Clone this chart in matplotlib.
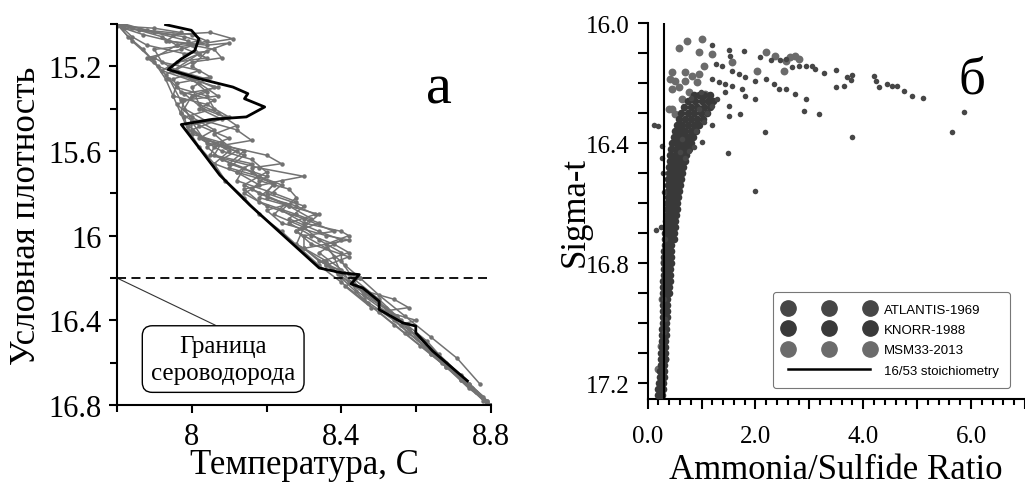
import matplotlib
matplotlib.use("Agg")
import matplotlib.pyplot as plt
from matplotlib.ticker import MultipleLocator, FuncFormatter
from matplotlib.lines import Line2D

SERIF = "Liberation Serif"
SANS = "Liberation Sans"

# ---------------- Panel a: T-S profiles ----------------
temp_label = "Температура, С"
dens_label = "Условная плотность"
boundary_sigma = 16.2
boundary_text = "Граница\nсероводорода"

# grey CTD casts: (temperature, sigma-t)
cast1_t = [7.80, 7.86, 7.95, 8.05, 8.11, 8.00, 7.90, 7.92, 8.02, 7.95, 7.97, 8.06, 8.02, 8.08, 7.99, 8.04,
           8.14, 8.10, 8.20, 8.16, 8.25, 8.22, 8.30, 8.28, 8.36, 8.40, 8.46, 8.54, 8.62, 8.70, 8.78]
cast1_s = [15.00, 15.03, 15.05, 15.04, 15.07, 15.10, 15.12, 15.18, 15.22, 15.26, 15.32, 15.36, 15.40, 15.45,
           15.48, 15.55, 15.60, 15.66, 15.72, 15.78, 15.85, 15.90, 15.96, 16.04, 16.12, 16.20, 16.30, 16.40,
           16.52, 16.64, 16.76]
cast2_t = [7.81, 7.84, 7.88, 7.98, 8.04, 8.00, 8.05, 7.96, 7.95, 8.04, 8.10, 8.00, 8.00, 8.08, 8.06, 8.16,
           8.12, 8.22, 8.20, 8.30, 8.26, 8.34, 8.40, 8.34, 8.40, 8.44, 8.52, 8.58, 8.66, 8.74, 8.80]
cast2_s = [15.01, 15.06, 15.10, 15.14, 15.13, 15.20, 15.25, 15.28, 15.34, 15.38, 15.44, 15.46, 15.52, 15.56,
           15.62, 15.66, 15.70, 15.75, 15.80, 15.86, 15.92, 15.98, 16.02, 16.08, 16.16, 16.26, 16.36, 16.46,
           16.58, 16.70, 16.80]
cast3_t = [7.82, 7.90, 7.99, 8.02, 7.94, 7.98, 8.06, 8.00, 7.98, 8.04, 8.12, 8.16, 8.06, 8.05, 8.18, 8.30,
           8.24, 8.14, 8.18, 8.28, 8.34, 8.28, 8.32, 8.42, 8.36, 8.42, 8.50, 8.58, 8.64, 8.72, 8.78]
cast3_s = [15.00, 15.04, 15.08, 15.14, 15.20, 15.24, 15.30, 15.34, 15.40, 15.46, 15.50, 15.55, 15.58, 15.62,
           15.68, 15.72, 15.74, 15.78, 15.84, 15.90, 15.94, 15.98, 16.04, 16.10, 16.14, 16.22, 16.32, 16.44,
           16.56, 16.68, 16.78]
cast4_t = [7.80, 7.84, 7.92, 7.96, 8.04, 7.96, 7.92, 8.02, 8.07, 7.98, 7.97, 8.02, 8.10, 8.04, 8.08, 8.14,
           8.12, 8.22, 8.28, 8.20, 8.24, 8.36, 8.42, 8.30, 8.36, 8.45, 8.41, 8.48, 8.60, 8.56, 8.62, 8.68,
           8.76, 8.79]
cast4_s = [15.00, 15.02, 15.06, 15.10, 15.16, 15.18, 15.22, 15.28, 15.34, 15.36, 15.42, 15.48, 15.54, 15.58,
           15.64, 15.68, 15.74, 15.80, 15.84, 15.88, 15.94, 16.00, 16.02, 16.06, 16.14, 16.20, 16.24, 16.34,
           16.40, 16.42, 16.50, 16.62, 16.74, 16.80]
cast5_t = [7.80, 7.87, 7.94, 8.06, 8.08, 8.00, 7.93, 7.96, 8.04, 8.06, 7.98, 7.99, 8.06, 8.10, 8.06, 8.12,
           8.18, 8.14, 8.20, 8.30, 8.38, 8.30, 8.30, 8.34, 8.42, 8.46, 8.55, 8.60, 8.67, 8.75, 8.80]
cast5_s = [15.01, 15.05, 15.08, 15.12, 15.16, 15.18, 15.24, 15.30, 15.34, 15.40, 15.44, 15.50, 15.56, 15.60,
           15.66, 15.70, 15.76, 15.80, 15.86, 15.92, 15.98, 16.00, 16.06, 16.12, 16.18, 16.28, 16.38, 16.48,
           16.60, 16.72, 16.80]
cast6_t = [7.80, 7.83, 7.87, 7.90, 7.93, 7.95, 7.97, 7.99, 8.02, 8.06, 8.09, 8.14, 8.18, 8.24, 8.29, 8.34,
           8.40, 8.47, 8.54, 8.61, 8.68, 8.74, 8.80]
cast6_s = [15.00, 15.06, 15.12, 15.18, 15.26, 15.34, 15.42, 15.50, 15.58, 15.66, 15.74, 15.82, 15.90, 15.98,
           16.06, 16.14, 16.22, 16.32, 16.42, 16.52, 16.62, 16.72, 16.80]
cast7_t = [7.82, 7.98, 8.02, 7.96, 7.90, 7.96, 8.04, 8.00, 8.02, 8.07, 8.12, 8.06, 8.10, 8.20, 8.24, 8.16,
           8.18, 8.26, 8.28, 8.24, 8.30, 8.40, 8.42, 8.36, 8.38, 8.40, 8.46, 8.54, 8.58, 8.50, 8.57, 8.64,
           8.72, 8.79]
cast7_s = [15.02, 15.06, 15.08, 15.10, 15.16, 15.22, 15.26, 15.30, 15.38, 15.42, 15.48, 15.52, 15.58, 15.62,
           15.66, 15.68, 15.74, 15.78, 15.82, 15.88, 15.94, 15.98, 16.00, 16.04, 16.10, 16.18, 16.26, 16.30,
           16.34, 16.36, 16.46, 16.56, 16.68, 16.78]
cast8_t = [7.81, 7.88, 8.00, 8.04, 7.97, 7.88, 7.91, 8.00, 8.04, 7.96, 8.00, 8.06, 8.02, 8.08, 8.16, 8.20,
           8.14, 8.18, 8.26, 8.34, 8.30, 8.34, 8.40, 8.40, 8.43, 8.50, 8.56, 8.63, 8.68, 8.74, 8.80]
cast8_s = [15.00, 15.03, 15.05, 15.08, 15.12, 15.16, 15.20, 15.26, 15.32, 15.38, 15.44, 15.50, 15.54, 15.60,
           15.64, 15.70, 15.76, 15.80, 15.86, 15.90, 15.96, 16.02, 16.08, 16.12, 16.20, 16.30, 16.40, 16.50,
           16.60, 16.70, 16.80]
cast9_t = [7.81, 7.90, 7.97, 7.93, 8.04, 8.10, 8.02, 7.95, 8.00, 8.07, 7.98, 8.03, 8.09, 8.00, 8.04, 8.12,
           8.08, 8.16, 8.22, 8.18, 8.26, 8.32, 8.28, 8.36, 8.41, 8.45, 8.50, 8.57, 8.64, 8.71, 8.77]
cast9_s = [15.01, 15.02, 15.04, 15.08, 15.10, 15.09, 15.14, 15.22, 15.26, 15.30, 15.33, 15.40, 15.44, 15.50,
           15.56, 15.60, 15.64, 15.70, 15.76, 15.82, 15.86, 15.92, 15.98, 16.06, 16.14, 16.20, 16.28, 16.38,
           16.48, 16.58, 16.70]
cast10_t = [7.80, 7.84, 7.89, 7.94, 7.97, 8.00, 8.03, 8.09, 8.14, 8.10, 8.18, 8.24, 8.20, 8.28, 8.33, 8.26,
            8.32, 8.38, 8.42, 8.35, 8.39, 8.44, 8.52, 8.58, 8.66, 8.72, 8.79]
cast10_s = [15.00, 15.08, 15.16, 15.26, 15.36, 15.46, 15.54, 15.58, 15.62, 15.68, 15.72, 15.76, 15.82, 15.86,
            15.90, 15.94, 16.00, 16.04, 16.08, 16.12, 16.18, 16.24, 16.34, 16.44, 16.56, 16.66, 16.78]

grey_casts = [(cast1_t, cast1_s), (cast2_t, cast2_s), (cast3_t, cast3_s), (cast4_t, cast4_s),
              (cast5_t, cast5_s), (cast6_t, cast6_s), (cast7_t, cast7_s), (cast8_t, cast8_s),
              (cast9_t, cast9_s), (cast10_t, cast10_s)]

# highlighted cast (black)
main_t = [7.930, 7.999, 8.019, 8.008, 7.972, 7.937, 8.021, 8.110, 8.150, 8.141, 8.195, 8.146, 8.057, 7.972,
          8.021, 8.075, 8.155, 8.243, 8.341, 8.403, 8.448, 8.426, 8.457, 8.501, 8.501, 8.564, 8.599, 8.599,
          8.644, 8.737]
main_s = [15.003, 15.030, 15.070, 15.126, 15.165, 15.215, 15.259, 15.298, 15.329, 15.353, 15.392, 15.439,
          15.450, 15.475, 15.588, 15.714, 15.855, 15.996, 16.153, 16.176, 16.184, 16.228, 16.247, 16.310,
          16.349, 16.412, 16.427, 16.459, 16.545, 16.686]

# ---------------- Panel б: ammonia/sulfide ----------------
ratio_label = "Ammonia/Sulfide Ratio"
sigma_label = "Sigma-t"
stoich_ratio = 16 / 53

# KNORR-1988: dense band, sigma-t level -> ratios observed at that level
knorr_levels = [16.24, 16.26, 16.28, 16.30, 16.32, 16.34, 16.36, 16.38, 16.40, 16.42, 16.44, 16.46, 16.48,
                16.50, 16.52, 16.54, 16.56, 16.58, 16.60, 16.62, 16.64, 16.66, 16.68, 16.70, 16.72, 16.74,
                16.76, 16.78, 16.80, 16.82, 16.84, 16.86, 16.88, 16.90, 16.92, 16.94, 16.96, 16.98, 17.00,
                17.02, 17.04, 17.06, 17.08, 17.10, 17.12, 17.14, 17.16, 17.18, 17.20, 17.22, 17.24]
knorr_ratios = [
    [0.85, 0.95, 1.05, 1.15],
    [0.75, 0.88, 1.00, 1.12, 1.22],
    [0.68, 0.80, 0.92, 1.04, 1.16],
    [0.62, 0.74, 0.86, 0.98, 1.10],
    [0.58, 0.69, 0.80, 0.91, 1.02],
    [0.54, 0.64, 0.74, 0.85, 0.95],
    [0.51, 0.60, 0.70, 0.80, 0.90],
    [0.48, 0.57, 0.66, 0.75, 0.84],
    [0.46, 0.54, 0.62, 0.71, 0.80],
    [0.44, 0.52, 0.60, 0.68, 0.76],
    [0.42, 0.50, 0.57, 0.65, 0.72],
    [0.41, 0.48, 0.55, 0.62, 0.69],
    [0.40, 0.46, 0.53, 0.60, 0.66],
    [0.39, 0.45, 0.51, 0.57, 0.63],
    [0.38, 0.44, 0.50, 0.56, 0.62],
    [0.38, 0.44, 0.49, 0.55, 0.60],
    [0.37, 0.43, 0.48, 0.53, 0.58],
    [0.37, 0.42, 0.47, 0.52, 0.57],
    [0.36, 0.41, 0.46, 0.51, 0.55],
    [0.35, 0.40, 0.45, 0.49, 0.54],
    [0.35, 0.40, 0.44, 0.48, 0.53],
    [0.34, 0.39, 0.43, 0.47, 0.51],
    [0.33, 0.38, 0.42, 0.46, 0.50],
    [0.33, 0.37, 0.42, 0.46, 0.49],
    [0.32, 0.37, 0.41, 0.45, 0.48],
    [0.32, 0.36, 0.41, 0.44],
    [0.31, 0.36, 0.40, 0.44],
    [0.31, 0.35, 0.40, 0.43],
    [0.30, 0.35, 0.39, 0.43],
    [0.30, 0.34, 0.38, 0.42],
    [0.30, 0.34, 0.38, 0.41],
    [0.29, 0.34, 0.37, 0.41],
    [0.29, 0.33, 0.37, 0.40],
    [0.29, 0.33, 0.36, 0.39],
    [0.29, 0.33, 0.36],
    [0.28, 0.32, 0.36],
    [0.28, 0.32, 0.35],
    [0.28, 0.31, 0.35],
    [0.28, 0.31, 0.34],
    [0.27, 0.31, 0.34],
    [0.27, 0.31, 0.34],
    [0.26, 0.30, 0.33],
    [0.26, 0.30, 0.33],
    [0.25, 0.29, 0.32],
    [0.25, 0.29, 0.32],
    [0.24, 0.28, 0.31],
    [0.23, 0.27, 0.31],
    [0.22, 0.26, 0.30],
    [0.21, 0.25, 0.29],
    [0.20, 0.24, 0.28],
    [0.19, 0.23, 0.27],
]
knorr_x = [r for row in knorr_ratios for r in row]
knorr_y = [lev for lev, row in zip(knorr_levels, knorr_ratios) for _ in row]

atlantis_x = [1.195, 1.505, 1.536, 1.78, 2.09, 2.28, 2.46, 2.56, 2.68, 2.80, 2.93, 3.05, 3.11, 3.27, 3.49,
              3.49, 3.64, 3.70, 3.80, 3.77, 4.20, 4.23, 4.29, 4.45, 4.54, 4.63, 4.76, 4.91, 5.10, 5.87,
              5.65, 3.80, 2.17, 1.49, 1.99, 3.18, 2.90, 2.93, 2.74, 2.56, 2.43, 2.34, 2.19, 2.00, 1.81,
              1.69, 1.57, 1.38, 1.27, 1.195, 1.32, 1.44, 1.57, 1.75, 1.81, 2.00, 1.44, 1.29, 1.50, 1.72,
              1.50, 1.195, 0.95, 0.85, 1.01, 0.64, 0.76, 0.20, 0.27, 0.24, 0.30, 0.33, 0.30, 0.30, 0.33,
              0.12, 0.15, 0.27, 0.28, 0.90, 1.05, 0.70, 1.10, 0.60, 0.80, 1.20, 0.98]
atlantis_y = [16.073, 16.089, 16.109, 16.092, 16.114, 16.123, 16.123, 16.120, 16.148, 16.142, 16.142,
              16.142, 16.153, 16.167, 16.156, 16.214, 16.211, 16.181, 16.173, 16.190, 16.176, 16.192,
              16.214, 16.203, 16.209, 16.211, 16.226, 16.242, 16.250, 16.296, 16.364, 16.381, 16.364,
              16.433, 16.560, 16.303, 16.292, 16.253, 16.237, 16.220, 16.220, 16.203, 16.187, 16.192,
              16.181, 16.170, 16.159, 16.142, 16.137, 16.187, 16.198, 16.203, 16.209, 16.220, 16.242,
              16.253, 16.231, 16.253, 16.276, 16.303, 16.309, 16.276, 16.287, 16.414, 16.398, 16.387,
              16.426, 16.342, 16.409, 16.680, 16.564, 16.720, 16.920, 17.030, 16.987, 16.340, 16.690,
              16.450, 16.500, 16.360, 16.330, 16.450, 16.300, 16.430, 16.250, 16.340, 16.230]

msm_x = [0.59, 0.73, 1.01, 0.95, 1.195, 0.70, 0.82, 0.95, 1.04, 0.45, 0.42, 0.51, 0.45, 0.58, 0.70, 0.92,
         0.64, 0.76, 0.45, 0.51, 0.39, 1.07, 1.57, 2.03, 2.19, 2.37, 2.53, 2.65, 2.74, 2.80, 2.56, 0.45,
         0.48, 0.42, 0.39, 0.30, 0.27, 0.24, 0.20, 0.27, 0.33, 0.48, 0.42, 0.36, 0.40]
msm_y = [16.084, 16.059, 16.053, 16.098, 16.103, 16.164, 16.176, 16.170, 16.142, 16.164, 16.187, 16.192,
         16.220, 16.214, 16.192, 16.198, 16.253, 16.231, 16.287, 16.303, 16.287, 16.237, 16.131, 16.159,
         16.098, 16.109, 16.159, 16.114, 16.109, 16.120, 16.126, 16.498, 16.537, 16.598, 16.676, 16.798,
         16.920, 17.076, 17.153, 17.198, 17.120, 16.442, 16.564, 16.860, 16.620]

series_names = ["ATLANTIS-1969", "KNORR-1988", "MSM33-2013"]
stoich_name = "16/53 stoichiometry"

col_atl, col_kn, col_msm = "#464646", "#393939", "#6b6b6b"

fig = plt.figure(figsize=(10.25, 4.85), dpi=100)

# ---- panel a ----
ax1 = fig.add_axes([0.1141, 0.1629, 0.3649, 0.7856])
for t, s in grey_casts:
    ax1.plot(t, s, color="#727272", lw=1.1, marker="o", ms=2.2, zorder=2)
ax1.plot(main_t, main_s, color="black", lw=2.0, zorder=3)
ax1.axhline(boundary_sigma, xmin=0, xmax=0.99, color="black", lw=1.3, ls=(0, (5, 3)), zorder=4)
ax1.annotate(boundary_text, xy=(7.8, boundary_sigma), xytext=(8.084, 16.583),
             ha="center", va="center", fontsize=18, family=SERIF, linespacing=1.3,
             bbox=dict(boxstyle="round,pad=0.35,rounding_size=0.4", fc="white", ec="black", lw=1.0),
             arrowprops=dict(arrowstyle="-", color="#333333", lw=0.8, relpos=(0.58, 1.0),
                             shrinkA=0, shrinkB=0))
ax1.text(0.86, 0.83, "а", transform=ax1.transAxes, fontsize=42, family=SERIF, ha="center", va="center")
ax1.set_xlim(7.8, 8.8)
ax1.set_ylim(16.8, 15.0)
ax1.xaxis.set_major_locator(MultipleLocator(0.4))
ax1.xaxis.set_minor_locator(MultipleLocator(0.2))
ax1.yaxis.set_major_locator(MultipleLocator(0.4))
ax1.yaxis.set_minor_locator(MultipleLocator(0.2))
ax1.xaxis.set_major_formatter(FuncFormatter(lambda v, p: "%g" % round(v, 2)))
ax1.yaxis.set_major_formatter(FuncFormatter(lambda v, p: "%g" % round(v, 2)))
ax1.tick_params(which="both", labelsize=22)
ax1.tick_params(axis="x", which="both", pad=6)
ax1.tick_params(axis="y", which="both", pad=5)
ax1.tick_params(which="major", length=6)
ax1.tick_params(which="minor", length=5)
ax1.set_xlabel(temp_label, fontsize=25, family=SERIF, labelpad=-2)
ax1.set_ylabel(dens_label, fontsize=25, family=SERIF, labelpad=4)

# ---- panel б ----
ax2 = fig.add_axes([0.6319, 0.1753, 0.368, 0.7752])
ax2.scatter(msm_x, msm_y, s=32, color=col_msm, lw=0, zorder=2)
ax2.scatter(knorr_x, knorr_y, s=30, color=col_kn, lw=0, zorder=3)
ax2.scatter(atlantis_x, atlantis_y, s=16, color=col_atl, lw=0, zorder=3)
ax2.axvline(stoich_ratio, color="black", lw=1.5, zorder=4)
ax2.text(0.86, 0.85, "б", transform=ax2.transAxes, fontsize=38, family=SERIF, ha="center", va="center")
ax2.set_xlim(0, 7.0)
ax2.set_ylim(17.253, 16.0)
ax2.xaxis.set_major_locator(MultipleLocator(1.0))
ax2.xaxis.set_minor_locator(MultipleLocator(0.2))
ax2.yaxis.set_major_locator(MultipleLocator(0.4))
ax2.yaxis.set_minor_locator(MultipleLocator(0.1))
ax2.xaxis.set_major_formatter(FuncFormatter(lambda v, p: "%.1f" % v if round(v) % 2 == 0 else ""))
ax2.yaxis.set_major_formatter(FuncFormatter(lambda v, p: "%.1f" % v))
ax2.tick_params(which="both", labelsize=18)
ax2.tick_params(axis="x", which="major", length=7, pad=12)
ax2.tick_params(axis="x", which="minor", length=4)
ax2.tick_params(axis="y", which="both", length=7, pad=6)
ax2.set_xlabel(ratio_label, fontsize=25, family=SERIF, labelpad=4)
ax2.set_ylabel(sigma_label, fontsize=25, family=SERIF, labelpad=-4)

handles = [Line2D([], [], ls="none", marker="o", ms=11, color=col_atl),
           Line2D([], [], ls="none", marker="o", ms=11, color=col_kn),
           Line2D([], [], ls="none", marker="o", ms=11, color=col_msm),
           Line2D([], [], color="black", lw=1.8)]
leg = ax2.legend(handles, series_names + [stoich_name], loc="lower right", bbox_to_anchor=(0.96, 0.029),
                 borderaxespad=0, numpoints=3, handlelength=6.8, handletextpad=0.75, labelspacing=0.62,
                 prop={"family": SANS, "size": 9.5}, frameon=True, fancybox=True, borderpad=0.85)
leg.get_frame().set_edgecolor("#555555")
leg.get_frame().set_linewidth(0.8)

for ax in (ax1, ax2):
    for side in ("top", "right"):
        ax.spines[side].set_visible(False)
    for side in ("left", "bottom"):
        ax.spines[side].set_linewidth(1.5)
    ax.tick_params(which="both", direction="out", width=1.5)
    for lab in ax.get_xticklabels() + ax.get_yticklabels():
        lab.set_family(SERIF)

fig.savefig("out.png", dpi=100)
